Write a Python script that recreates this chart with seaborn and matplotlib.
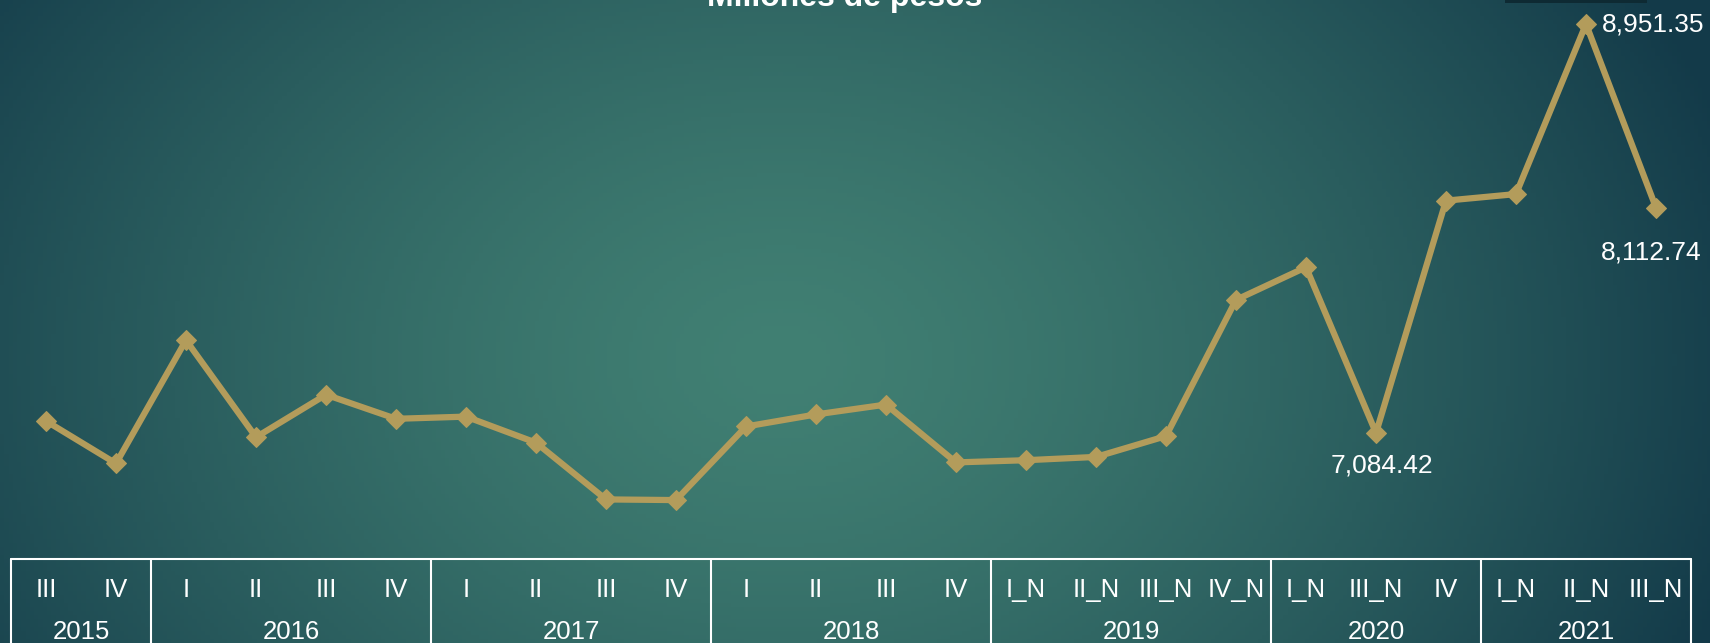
import numpy as np
import pandas as pd
import matplotlib
matplotlib.use('Agg')
import matplotlib.pyplot as plt
import matplotlib.transforms as mtransforms
from matplotlib.patches import Rectangle
import seaborn as sns

# ── Data ──────────────────────────────────────────────────────────────────────
years = ['2015', '2016', '2017', '2018', '2019', '2020', '2021']
quarters = ['III', 'IV',
            'I', 'II', 'III', 'IV',
            'I', 'II', 'III', 'IV',
            'I', 'II', 'III', 'IV',
            'I_N', 'II_N', 'III_N', 'IV_N',
            'I_N', 'III_N', 'IV',
            'I_N', 'II_N', 'III_N']
quarters_per_year = [2, 4, 4, 4, 4, 3, 3]
values = [7139, 6945, 7508, 7065, 7259, 7149,
          7159, 7040, 6781, 6778, 7114, 7169,
          7214, 6950, 6960, 6975, 7070, 7692,
          7841, 7084.42, 8145, 8175, 8951.35, 8112.74]
labelled = [19, 22, 23]

df = pd.DataFrame({'pos': np.arange(len(quarters)), 'quarter': quarters, 'value': values})

# ── Style ─────────────────────────────────────────────────────────────────────
sns.set_style('white')
plt.rcParams['font.family'] = ['Liberation Sans', 'DejaVu Sans']
NARROW = ['Liberation Sans Narrow', 'Liberation Sans', 'DejaVu Sans']
GOLD = '#B39C5B'
WHITE = '#FFFFFF'

fig = plt.figure(figsize=(17.1, 6.43), dpi=100)

# radial gradient background
bg = fig.add_axes([0, 0, 1, 1])
bg.axis('off')
gx, gy = np.meshgrid(np.linspace(0, 1710, 400), np.linspace(0, 643, 160))
r = np.sqrt(((gx - 780) / 1000) ** 2 + ((gy - 360) / 750) ** 2)
t = np.clip(r, 0, 1) ** 1.4
c_in = np.array([0x41, 0x80, 0x73]) / 255
c_out = np.array([0x13, 0x3A, 0x49]) / 255
img = c_in[None, None, :] * (1 - t[..., None]) + c_out[None, None, :] * t[..., None]
bg.imshow(img, extent=[0, 1, 0, 1], aspect='auto', origin='upper')
bg.set_xlim(0, 1)
bg.set_ylim(0, 1)
bg.add_patch(Rectangle((1505 / 1710, 1 - 3 / 643), 142 / 1710, 3 / 643,
                       color='#0E2A33', transform=bg.transAxes, lw=0))

ax = fig.add_axes([11 / 1710, 84 / 643, 1680 / 1710, 559 / 643])
ax.patch.set_alpha(0)

sns.lineplot(data=df, x='pos', y='value', color=GOLD, linewidth=4.5,
             marker='D', markersize=10.5, markeredgecolor=GOLD, ax=ax)

ax.set_xlim(-0.5, len(quarters) - 0.5)
ax.set_ylim(6509, 9061)
ax.set_xticks([])
ax.set_yticks([])
ax.set_xlabel('')
ax.set_ylabel('')
for s in ax.spines.values():
    s.set_visible(False)

# data labels
offsets = {19: (6, -33, 'center', 'center'),
           22: (16, 0, 'left', 'center'),
           23: (-5, -45, 'center', 'center')}
for i in labelled:
    dx, dy, ha, va = offsets[i]
    ax.annotate(f'{values[i]:,.2f}', (i, values[i]), xytext=(dx * 0.72, dy * 0.72),
                textcoords='offset points', ha=ha, va=va, color=WHITE, fontsize=19)

# category table below the axis
trans = mtransforms.blended_transform_factory(ax.transData, ax.transAxes)
ax.plot([-0.5, len(quarters) - 0.5], [0, 0], color=WHITE, lw=1.5,
        transform=trans, clip_on=False)
for i, q in enumerate(quarters):
    ax.text(i, -0.0555, q, transform=trans, ha='center', va='center',
            color=WHITE, fontsize=18.5, family=NARROW)
start = -0.5
ax.plot([start, start], [0, -0.2], color=WHITE, lw=1.5, transform=trans, clip_on=False)
for y, n in zip(years, quarters_per_year):
    end = start + n
    ax.plot([end, end], [0, -0.2], color=WHITE, lw=1.5, transform=trans, clip_on=False)
    ax.text((start + end) / 2, -0.1306, y, transform=trans, ha='center', va='center',
            color=WHITE, fontsize=18.5, family=NARROW)
    start = end

fig.text(845 / 1710, 1 - 6 / 643, 'Millones de pesos', ha='center', va='baseline',
         color=WHITE, fontsize=23, fontweight='bold')

fig.savefig('out.png', dpi=100)
